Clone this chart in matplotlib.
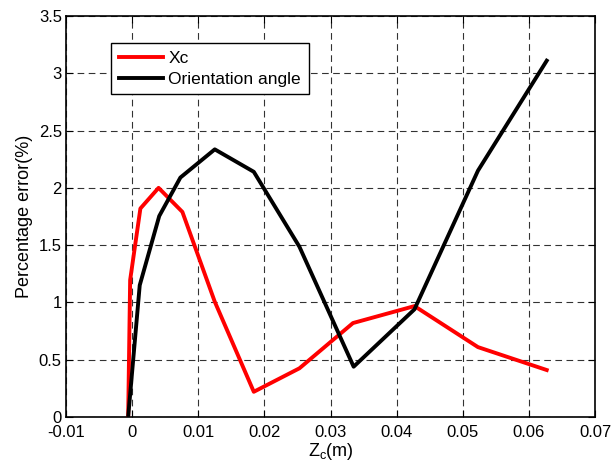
import matplotlib
matplotlib.use("Agg")
import matplotlib.pyplot as plt

plt.rcParams['font.family'] = ['Liberation Sans', 'DejaVu Sans']

xc_z = [-0.0006, -0.0003, 0.00125, 0.004, 0.0076, 0.0125, 0.0184, 0.0253, 0.0334, 0.0427, 0.0523, 0.0627]
xc_err = [0.0, 1.195, 1.82, 2.0, 1.79, 1.006, 0.22, 0.425, 0.82, 0.968, 0.61, 0.41]

ang_z = [-0.0006, 0.00115, 0.0041, 0.0073, 0.0125, 0.0184, 0.0253, 0.0335, 0.0427, 0.0523, 0.0627]
ang_err = [0.0, 1.15, 1.754, 2.09, 2.336, 2.14, 1.486, 0.439, 0.94, 2.15, 3.11]

xticks = [-0.01, 0, 0.01, 0.02, 0.03, 0.04, 0.05, 0.06, 0.07]
xticklabels = ['-0.01', '0', '0.01', '0.02', '0.03', '0.04', '0.05', '0.06', '0.07']
yticks = [0, 0.5, 1, 1.5, 2, 2.5, 3, 3.5]
yticklabels = ['0', '0.5', '1', '1.5', '2', '2.5', '3', '3.5']

fig = plt.figure(figsize=(6.16, 4.73), dpi=100)
ax = fig.add_axes([66/616, 1 - 417/473, 529/616, 401/473])

ax.plot(xc_z, xc_err, color='#ff0000', lw=2.8, label='Xc', zorder=3)
ax.plot(ang_z, ang_err, color='black', lw=2.8, label='Orientation angle', zorder=3)

ax.set_xlim(-0.01, 0.07)
ax.set_ylim(0, 3.5)
ax.set_xticks(xticks)
ax.set_xticklabels(xticklabels)
ax.set_yticks(yticks)
ax.set_yticklabels(yticklabels)
ax.tick_params(direction='in', top=True, right=True, labelsize=12, length=5, width=0.8)
ax.tick_params(axis='x', pad=5.5)
ax.tick_params(axis='y', pad=3)
ax.grid(True, color='black', linestyle=(0, (6, 4)), linewidth=0.8, alpha=0.8)
ax.set_axisbelow(True)
for s in ax.spines.values():
    s.set_linewidth(1.2)

ax.set_xlabel('Z$_\\mathregular{c}$(m)', fontsize=13, labelpad=1)
ax.set_ylabel('Percentage error(%)', fontsize=13, labelpad=4)

leg = ax.legend(loc='upper left', bbox_to_anchor=(0.086, 0.932), fontsize=12.5,
                frameon=True, fancybox=False, edgecolor='black', framealpha=1,
                borderpad=0.45, handlelength=2.5, handletextpad=0.33, labelspacing=0.3,
                borderaxespad=0)
leg.get_frame().set_linewidth(1.0)

fig.savefig('out.png', dpi=100)
